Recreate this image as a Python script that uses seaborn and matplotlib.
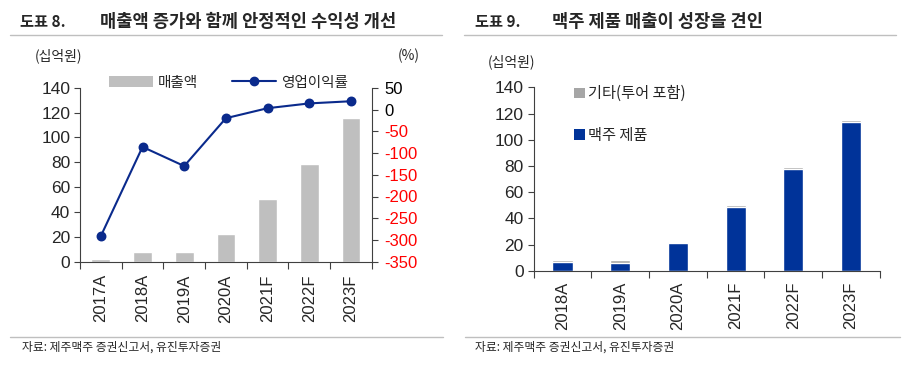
import numpy as np
import pandas as pd
import matplotlib
matplotlib.use('Agg')
import matplotlib.pyplot as plt
import seaborn as sns
from matplotlib.patches import Patch
from matplotlib.lines import Line2D

# 데이터
years_l = ['2017A', '2018A', '2019A', '2020A', '2021F', '2022F', '2023F']
sales = [2.0, 8.0, 7.5, 22.3, 50.2, 78.8, 115.6]          # 매출액 (십억원)
op_margin = [-291, -86, -130, -20, 3, 14, 19]              # 영업이익률 (%)

years_r = ['2018A', '2019A', '2020A', '2021F', '2022F', '2023F']
beer = [6.4, 6.2, 20.9, 48.6, 77.4, 113.3]                 # 맥주 제품
other = [1.5, 1.7, 1.2, 1.3, 1.5, 1.7]                     # 기타(투어 포함)

sns.set_theme(style='white')
plt.rcParams['font.family'] = ['Noto Sans CJK KR', 'DejaVu Sans']
plt.rcParams['axes.unicode_minus'] = False

GREY = '#BFBFBF'
NAVY = '#0A2A8C'
BLUE = '#003399'
OTHER = '#A6A6A6'
TICKFONT = 'Liberation Sans'

fig = plt.figure(figsize=(9.09, 3.75), dpi=100)

# 헤더
fig.text(0.022, 0.941, '도표 8.', fontsize=11, fontweight='bold', va='center')
fig.text(0.110, 0.941, '매출액 증가와 함께 안정적인 수익성 개선', fontsize=12.7, fontweight='bold', va='center')
fig.text(0.523, 0.941, '도표 9.', fontsize=11, fontweight='bold', va='center')
fig.text(0.607, 0.941, '맥주 제품 매출이 성장을 견인', fontsize=12.7, fontweight='bold', va='center')
fig.add_artist(Line2D([0.011, 0.486], [0.907, 0.907], color=GREY, lw=1))
fig.add_artist(Line2D([0.511, 0.986], [0.907, 0.907], color=GREY, lw=1))
fig.add_artist(Line2D([0.011, 0.487], [0.101, 0.101], color=GREY, lw=1))
fig.add_artist(Line2D([0.512, 0.99], [0.101, 0.101], color=GREY, lw=1))
fig.text(0.024, 0.073, '자료: 제주맥주 증권신고서, 유진투자증권', fontsize=8.5, va='center')
fig.text(0.523, 0.073, '자료: 제주맥주 증권신고서, 유진투자증권', fontsize=8.5, va='center')


def style_axis(ax, n, pad):
    ax.set_xlim(-0.5, n - 0.5)
    ax.set_xticks(range(n))
    ax.set_xticks(np.arange(-0.5, n, 1.0), minor=True)
    ax.tick_params(axis='x', which='major', length=0, pad=pad, labelrotation=90,
                   labelsize=12, labelfontfamily=TICKFONT)
    ax.tick_params(axis='x', which='minor', length=5, width=0.8, color='#404040', direction='out', bottom=True)
    ax.tick_params(axis='y', length=4, width=0.8, color='#404040', direction='out', left=True,
                   labelsize=12.5, pad=3, labelfontfamily=TICKFONT)
    for s in ['top', 'right']:
        ax.spines[s].set_visible(False)
    for s in ['left', 'bottom']:
        ax.spines[s].set_color('#404040')
        ax.spines[s].set_linewidth(0.8)
    ax.set_xlabel('')
    ax.set_ylabel('')


# 도표 8
ax1 = fig.add_axes([0.088, 0.302, 0.321, 0.464])
df_l = pd.DataFrame({'year': years_l, 'sales': sales, 'margin': op_margin})
sns.barplot(data=df_l, x='year', y='sales', color=GREY, saturation=1, width=0.45, ax=ax1)
ax1.set_ylim(0, 140)
ax1.set_yticks(range(0, 141, 20))
style_axis(ax1, len(years_l), 9)

ax2 = ax1.twinx()
sns.pointplot(data=df_l, x='year', y='margin', color=NAVY, markers='o', markersize=6,
              linewidth=1.5, ax=ax2)
ax2.set_ylim(-350, 50)
ax2.set_yticks(range(-350, 51, 50))
ax2.set_xlim(-0.5, len(years_l) - 0.5)
ax2.set_ylabel('')
for s in ['top', 'left', 'bottom']:
    ax2.spines[s].set_visible(False)
ax2.spines['right'].set_color('#404040')
ax2.spines['right'].set_linewidth(0.8)
ax2.tick_params(axis='y', length=4, width=0.8, color='#404040', direction='out', right=True,
                labelsize=12, pad=5, labelfontfamily=TICKFONT)
for lab, v in zip(ax2.get_yticklabels(), ax2.get_yticks()):
    lab.set_color('red' if v < 0 else 'black')

fig.text(0.038, 0.851, '(십억원)', fontsize=10, va='center')
fig.text(0.438, 0.851, '(%)', fontsize=10, va='center')

h1 = [Patch(facecolor=GREY, edgecolor='none'),
      Line2D([], [], color=NAVY, marker='o', markersize=6, lw=1.5)]
ax1.legend(h1, ['매출액', '영업이익률'], ncol=2, frameon=False, fontsize=10.5,
           loc='center left', bbox_to_anchor=(0.08, 1.03), handlelength=3,
           handleheight=0.8, columnspacing=2.4, handletextpad=0.3, borderaxespad=0)

# 도표 9
ax3 = fig.add_axes([0.587, 0.278, 0.381, 0.489])
df_r = pd.DataFrame({'year': years_r, 'beer': beer, 'other': other})
df_r['total'] = df_r['beer'] + df_r['other']
sns.barplot(data=df_r, x='year', y='total', color=OTHER, saturation=1, width=0.35, ax=ax3)
sns.barplot(data=df_r, x='year', y='beer', color=BLUE, saturation=1, width=0.35, ax=ax3)
ax3.set_ylim(0, 140)
ax3.set_yticks(range(0, 141, 20))
style_axis(ax3, len(years_r), 8)

fig.text(0.537, 0.835, '(십억원)', fontsize=10, va='center')

h3 = [Patch(facecolor=OTHER, edgecolor='none'), Patch(facecolor=BLUE, edgecolor='none')]
ax3.legend(h3, ['기타(투어 포함)', '맥주 제품'], frameon=False, fontsize=11,
           loc='upper left', bbox_to_anchor=(0.1, 1.045), handlelength=0.7,
           handleheight=0.7, labelspacing=1.6, handletextpad=0.2, borderaxespad=0)

fig.savefig('out.png', dpi=100, facecolor='white')
